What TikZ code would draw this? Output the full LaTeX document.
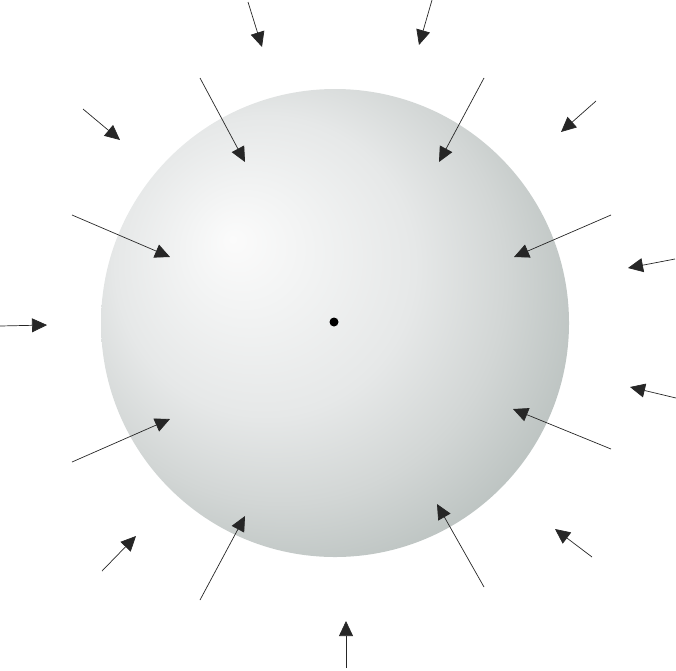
\documentclass[tikz,border=0pt]{standalone}
\usetikzlibrary{arrows.meta}
\definecolor{s0}{HTML}{FBFBFB}
\definecolor{s1}{HTML}{F3F4F4}
\definecolor{s2}{HTML}{E6E8E8}
\definecolor{s3}{HTML}{D2D6D5}
\definecolor{s4}{HTML}{BCC3C1}
\definecolor{s5}{HTML}{A6AFAC}
\definecolor{s6}{HTML}{9FA9A6}
% TikZ maps the path bounding box to the central 50bp square: radius = 25bp
\pgfdeclareradialshading{sphereshade}{\pgfpoint{-11bp}{9bp}}{%
  color(0bp)=(s0); color(6bp)=(s1); color(16bp)=(s2); color(24bp)=(s3);
  color(31bp)=(s4); color(37bp)=(s5); color(40bp)=(s6); color(50bp)=(s6)}
\tikzset{
  force/.style={draw=black!85, line width=0.7pt,
    -{Triangle[length=15pt,width=14pt]}},
}
\begin{document}
\begin{tikzpicture}[x=1pt,y=-1pt]
\useasboundingbox (0,0) rectangle (676,670);
\shade[shading=sphereshade] (335,323) circle (234);
\node[circle, fill=black, inner sep=0pt, minimum size=9pt] (c) at (334,322) {};
% inner arrows
\coordinate (a1s) at (200,78);  \coordinate (a1e) at (245,162);
\coordinate (a2s) at (484,78);  \coordinate (a2e) at (439,162);
\coordinate (a3s) at (72,215);  \coordinate (a3e) at (170,257);
\coordinate (a4s) at (611,215); \coordinate (a4e) at (514,257);
\coordinate (a5s) at (72,462);  \coordinate (a5e) at (170,419);
\coordinate (a6s) at (611,449); \coordinate (a6e) at (513,409);
\coordinate (a7s) at (200,600); \coordinate (a7e) at (245,516);
\coordinate (a8s) at (484,587); \coordinate (a8e) at (437,504);
% outer arrows
\coordinate (b1s) at (248,2);   \coordinate (b1e) at (262,47);
\coordinate (b2s) at (432,0);   \coordinate (b2e) at (419,45);
\coordinate (b3s) at (83,109);  \coordinate (b3e) at (120,140);
\coordinate (b4s) at (596,101); \coordinate (b4e) at (561,132);
\coordinate (b5s) at (0,326);   \coordinate (b5e) at (47,325);
\coordinate (b6s) at (675,259); \coordinate (b6e) at (628,268);
\coordinate (b7s) at (676,398); \coordinate (b7e) at (630,387);
\coordinate (b8s) at (102,571); \coordinate (b8e) at (136,536);
\coordinate (b9s) at (592,557); \coordinate (b9e) at (555,529);
\coordinate (b10s) at (346,668); \coordinate (b10e) at (346,621);
\foreach \n in {a1,a2,a3,a4,a5,a6,a7,a8,b1,b2,b3,b4,b5,b6,b7,b8,b9,b10}
  \draw[force] (\n s) -- (\n e);
\end{tikzpicture}
\end{document}
